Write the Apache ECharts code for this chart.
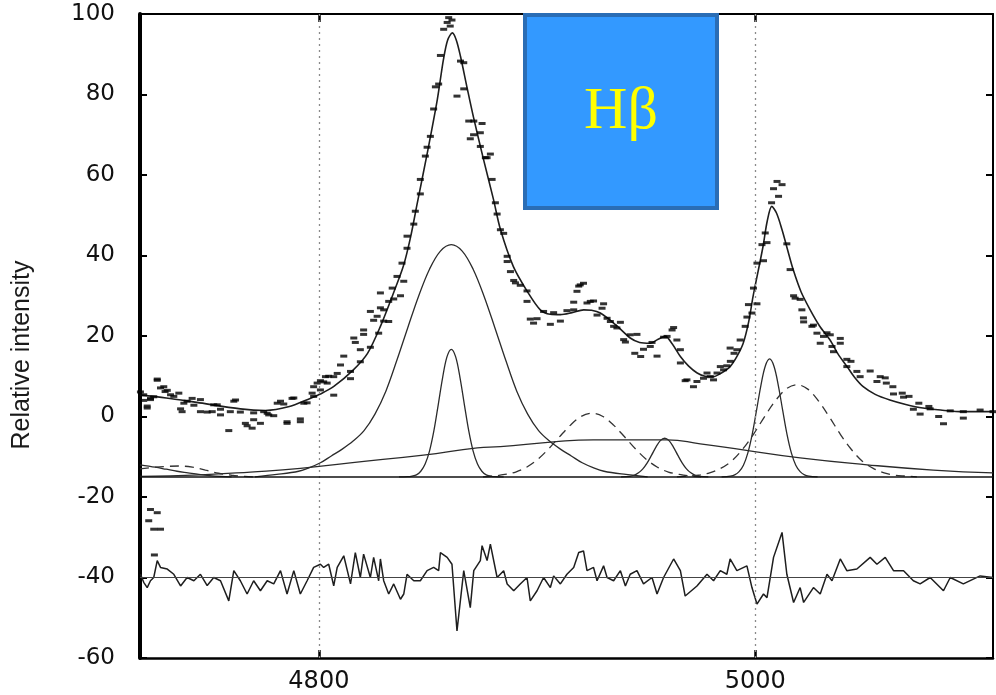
<!DOCTYPE html>
<html><head><meta charset="utf-8">
<script src="https://cdn.jsdelivr.net/npm/echarts@6/dist/echarts.min.js"></script>
<style>html,body{margin:0;padding:0;background:#fff}#c{width:996px;height:695px}</style>
</head><body><div id="c"></div>
<script>
// ---- observed spectrum and residuals (wavelength in Angstrom) ----
const wave = [4718.2,4719.7,4721.3,4722.8,4724.3,4725.9,4727.4,4730.5,4733.5,4736.6,4739.6,4742.7,4745.7,4748.8,4751.8,4754.9,4758.7,4761.0,4764.0,4767.1,4770.1,4773.2,4776.3,4779.3,4782.4,4785.4,4788.5,4791.5,4794.6,4797.6,4800.7,4802.2,4804.5,4806.8,4808.4,4811.4,4814.5,4816.7,4819.0,4820.5,4823.6,4825.1,4827.4,4828.2,4829.7,4832.0,4834.3,4837.4,4838.9,4840.4,4843.5,4846.5,4849.6,4852.6,4854.9,4855.7,4858.8,4861.0,4863.3,4866.4,4869.4,4871.0,4874.0,4874.8,4877.1,4878.6,4881.7,4884.7,4886.3,4889.3,4892.3,4895.4,4896.9,4900.0,4903.0,4906.1,4907.6,4910.7,4913.7,4916.8,4919.1,4921.3,4922.9,4925.9,4927.5,4930.5,4932.1,4935.1,4938.2,4940.5,4942.7,4945.8,4948.8,4952.7,4955.0,4958.0,4962.6,4965.7,4967.9,4973.3,4977.9,4980.9,4984.0,4987.0,4988.5,4991.6,4996.2,4998.5,5000.8,5003.8,5005.4,5008.4,5012.3,5014.5,5017.6,5020.6,5022.2,5026.7,5029.8,5032.9,5035.2,5039.0,5042.0,5046.6,5052.7,5055.8,5059.6,5063.4,5068.0,5072.5,5075.6,5080.2,5086.3,5089.4,5095.4,5103.1,5109.0];
const observed = [6.1,4.0,2.6,4.2,4.9,9.0,7.1,6.5,5.0,1.9,3.8,2.8,4.2,1.1,2.9,1.8,-3.5,3.8,1.1,-2.3,0.9,-1.7,0.8,0.2,3.8,-1.7,4.6,-0.6,3.4,7.4,8.9,8.6,10.0,5.3,10.7,15.0,9.4,18.4,13.6,20.4,17.2,23.9,20.7,27.0,23.7,23.6,29.2,30.0,33.6,41.8,47.8,55.3,66.9,76.4,82.6,89.7,97.9,98.5,79.6,87.9,69.0,73.4,70.5,72.8,64.3,65.2,50.3,45.5,39.8,33.8,32.6,31.2,24.2,24.3,26.1,22.9,25.8,23.7,26.3,28.4,32.4,33.1,28.2,28.7,25.2,28.0,24.4,22.4,23.4,18.5,20.3,20.4,16.7,18.4,15.0,19.7,22.1,16.6,8.9,8.7,10.8,9.1,12.4,12.6,17.0,16.6,24.7,25.7,28.0,38.7,43.2,56.6,57.6,42.9,30.0,29.1,23.5,22.7,18.2,20.8,17.4,19.4,14.2,11.2,11.3,8.7,9.6,5.6,4.8,1.8,0.6,1.9,-1.8,1.4,-0.4,1.6,1.2];
const residual = [-39.2,-41.2,-42.5,-40.8,-40.0,-35.8,-37.5,-37.9,-39.2,-42.1,-40.0,-40.8,-39.2,-42.0,-40.0,-40.8,-45.8,-38.3,-40.8,-44.1,-40.8,-43.3,-40.8,-41.6,-38.3,-44.1,-38.3,-44.1,-40.8,-37.5,-36.7,-37.5,-36.7,-42.1,-37.5,-34.6,-41.6,-33.8,-40.0,-34.2,-40.0,-35.0,-40.8,-35.4,-40.8,-44.1,-41.6,-45.4,-44.1,-39.2,-40.8,-40.8,-38.3,-37.5,-38.3,-33.8,-35.0,-36.7,-53.3,-38.3,-47.5,-38.3,-35.8,-32.1,-35.8,-31.7,-40.0,-38.3,-41.6,-43.3,-41.6,-40.0,-45.8,-43.3,-40.0,-42.5,-39.6,-41.6,-39.2,-37.5,-33.8,-33.4,-38.3,-37.5,-40.8,-37.1,-40.0,-40.8,-38.3,-42.1,-39.2,-38.3,-41.6,-40.0,-44.1,-40.0,-35.4,-38.3,-44.6,-42.1,-39.2,-40.8,-38.3,-39.2,-35.4,-38.3,-37.1,-42.5,-46.6,-44.1,-45.0,-35.0,-28.8,-39.2,-46.2,-42.5,-46.2,-42.5,-44.1,-39.2,-40.8,-35.4,-38.3,-37.9,-35.0,-36.7,-35.0,-38.3,-38.3,-40.8,-41.6,-40.0,-43.3,-40.0,-41.6,-39.6,-40.0];
// further observed points
const extraWave = [4725.9,4728.9,4729.5,4719.7,4722.8,4721.3,4732.0,4735.8,4738.1,4737.3,4741.9,4745.7,4751.1,4754.9,4753.4,4761.8,4759.4,4766.3,4770.1,4769.4,4774.7,4777.0,4780.9,4785.4,4787.7,4783.9,4791.5,4793.1,4796.9,4799.2,4803.0,4803.8,4800.7,4797.6,4806.8,4809.9,4814.5,4816.0,4819.0,4820.5,4823.6,4826.7,4828.2,4829.7,4832.0,4833.6,4835.8,4838.1,4840.4,4844.2,4846.5,4848.8,4851.1,4853.4,4857.2,4859.5,4860.2,4864.9,4866.4,4868.7,4870.9,4874.0,4876.3,4879.4,4880.9,4883.2,4886.3,4887.8,4890.1,4895.4,4898.4,4916.8,4918.3,4919.8,4924.4,4929.8,4933.6,4936.6,4939.7,4944.8,4947.5,4951.9,4959.6,4961.9,4964.1,4965.7,4968.7,4971.7,4976.3,4979.4,4982.5,4985.5,4988.6,4990.3,4993.1,4995.4,4996.9,4999.2,5000.8,5003.1,5004.6,5007.5,5010.0,5010.7,5016.0,5018.3,5021.4,5022.1,5026.0,5028.3,5031.3,5034.4,5035.9,5039.0,5042.0,5043.9,5048.1,5057.3,5060.1,5063.1,5067.4,5070.5,5075.0,5079.6,5084.1,5095.4];
const extraFlux = [9.3,7.4,6.2,5.4,4.5,2.1,5.4,5.8,3.3,1.2,4.5,1.2,1.2,0.4,2.9,4.1,1.2,-1.7,-0.8,-2.9,1.2,0.4,3.3,-1.3,4.5,3.1,-1.3,3.3,5.8,8.3,9.9,8.3,6.6,5.0,9.9,12.8,11.2,19.5,16.6,21.5,26.1,24.9,30.7,26.5,28.6,31.9,34.8,38.1,44.8,51.0,58.9,64.7,69.6,81.9,96.2,99.1,97.0,88.3,81.4,73.4,70.0,67.1,64.3,58.9,53.1,46.4,38.5,36.0,33.2,28.6,23.2,26.5,31.1,32.7,28.6,26.9,23.6,22.0,19.1,15.7,14.9,17.4,19.9,21.5,19.0,13.3,9.1,7.4,9.5,9.9,10.8,11.6,13.7,15.7,19.0,22.4,27.8,31.9,38.1,42.7,45.6,53.1,58.4,54.7,36.5,29.4,26.5,24.5,22.4,20.7,19.9,20.3,16.1,18.2,12.4,13.7,9.9,9.9,8.3,7.4,5.8,5.0,3.3,2.5,0.0,1.2];
// stray points in the lower panel
const strayWave = [4722.0,4722.8,4724.3,4724.6,4725.9,4727.4];
const strayFlux = [-25.9,-23.1,-28.0,-34.4,-23.9,-28.0];

// ---- total fit ----
const fitWave = [4718,4730,4744,4764,4775.5,4786,4796,4800.7,4806.7,4815.8,4822.3,4828.2,4834.2,4838.8,4842,4845.1,4849.7,4854.3,4857.1,4859,4861.2,4863,4864.9,4868,4870.8,4875.4,4880,4883.2,4889.1,4895.5,4901.5,4906,4910.7,4916,4921.4,4925,4929,4936,4942.7,4947,4951.9,4955.5,4958.8,4962,4965.7,4969.5,4973.4,4977,4980.8,4984.5,4988.5,4991.5,4994.5,4997,4999,5001.3,5003.6,5005.5,5007.6,5009.8,5012.3,5014.8,5017.4,5021,5025.2,5029.5,5034.3,5038,5042.1,5045.7,5049.5,5055,5061.7,5069,5076.9,5085,5095.2,5109];
const fitFlux = [5.3,4.6,3.5,1.9,1.5,2.4,4.5,5.6,7.4,11.6,15.7,22.4,30.7,37.5,44.5,53,65.5,78.8,88.7,93.5,95.3,93.5,89.5,81.5,74.5,64,54,46.5,37.3,31.1,26.5,25.4,25.3,25.8,26.5,26.4,25.7,22.8,19.5,18.4,18.2,19.2,19.9,18,14.9,12.5,10.8,10.0,9.9,10.8,12.4,14.8,18.2,23.5,29.8,36,42.3,48.5,52.2,50.5,46.4,41.5,36.5,31,26.5,22.5,19.0,15.5,12.4,9.6,7.4,5.5,4.1,3.0,2.1,1.6,1.2,1.2];

// ---- fit components (drawn on the -15 baseline) ----
const broadWave = [4770.7,4780.7,4790.7,4795.7,4800.7,4805.7,4810.7,4815.7,4820.7,4825.7,4830.7,4835.7,4840.7,4845.7,4850.7,4855.7,4860.7,4865.7,4870.7,4875.7,4880.7,4885.7,4890.7,4895.7,4900.7,4905.7,4910.7,4915.7,4920.7,4925.7,4930.7,4940.7,4950.7];
const broadFlux = [-15,-14.4,-13.6,-12.7,-11.5,-9.8,-8.1,-6.1,-3.5,0.6,6.3,13.9,22.0,29.9,36.6,41.1,42.7,41.1,36.6,29.9,22.0,13.9,6.3,0.6,-3.5,-6.1,-8.1,-9.8,-11.5,-12.7,-13.6,-14.4,-15];
const narrowWave = [4836.7,4840.7,4842.7,4844.7,4846.7,4848.7,4850.7,4852.7,4854.7,4856.7,4858.7,4860.7,4862.7,4864.7,4866.7,4868.7,4870.7,4872.7,4874.7,4876.7,4878.7,4880.7,4884.7];
const narrowFlux = [-15,-14.95,-14.8,-14.5,-13.6,-11.8,-8.6,-3.6,2.9,9.6,14.8,16.7,14.8,9.6,2.9,-3.6,-8.6,-11.8,-13.6,-14.5,-14.8,-14.95,-15];
const o4959Wave = [4938.5,4942.5,4944.5,4946.5,4948.5,4950.5,4952.5,4954.5,4956.5,4958.5,4960.5,4962.5,4964.5,4966.5,4968.5,4970.5,4972.5,4974.5,4978.5];
const o4959Flux = [-15,-14.85,-14.6,-14.0,-13.0,-11.5,-9.6,-7.6,-6.0,-5.4,-6.0,-7.6,-9.6,-11.5,-13.0,-14.0,-14.6,-14.85,-15];
const o5007Wave = [4984.6,4988.6,4990.6,4992.6,4994.6,4996.6,4998.6,5000.6,5002.6,5004.6,5006.6,5008.6,5010.6,5012.6,5014.6,5016.6,5018.6,5020.6,5022.6,5024.6,5028.6];
const o5007Flux = [-15,-14.8,-14.5,-13.7,-12.1,-9.1,-4.5,1.5,7.7,12.5,14.3,12.5,7.7,1.5,-4.5,-9.1,-12.1,-13.7,-14.5,-14.8,-15];
const fe4924Wave = [4875.2,4880.2,4885.2,4890.2,4895.2,4900.2,4905.2,4910.2,4915.2,4920.2,4925.2,4930.2,4935.2,4940.2,4945.2,4950.2,4955.2,4960.2,4965.2,4970.2,4975.2];
const fe4924Flux = [-15,-14.8,-14.4,-13.8,-12.6,-10.7,-8.1,-5.1,-2.2,0.0,0.8,0.0,-2.2,-5.1,-8.1,-10.7,-12.6,-13.8,-14.4,-14.8,-15];
const fe5018Wave = [4964.1,4969.1,4974.1,4979.1,4984.1,4989.1,4994.1,4999.1,5004.1,5009.1,5014.1,5019.1,5024.1,5029.1,5034.1,5039.1,5044.1,5049.1,5054.1,5059.1,5064.1,5069.1,5074.1];
const fe5018Flux = [-15,-14.8,-14.6,-14.0,-12.9,-11.1,-8.2,-4.5,-0.2,3.8,6.8,7.9,6.8,3.8,-0.2,-4.5,-8.2,-11.1,-12.9,-14.0,-14.6,-14.8,-15];
const vbWave = [4718,4745.7,4768.6,4791.5,4814.4,4847.9,4872.6,4883.2,4907.5,4925.8,4942.7,4959.7,4974.8,4994.5,5020.6,5051.3,5081.6,5109];
const vbFlux = [-14.9,-14.5,-13.8,-12.9,-11.5,-9.6,-7.8,-7.5,-6.3,-5.8,-5.8,-5.8,-6.8,-8.3,-10.3,-12.0,-13.3,-14.0];
const leftSolidWave = [4718,4725,4730,4735,4740,4745,4750,4755,4760];
const leftSolidFlux = [-12.0,-12.6,-13.1,-13.6,-14.0,-14.4,-14.7,-14.9,-15];
const leftDashWave = [4718,4725,4730,4736,4742,4748,4754,4760,4766,4772];
const leftDashFlux = [-13.0,-12.6,-12.4,-12.3,-12.6,-13.3,-14.1,-14.6,-14.9,-15];

// ---- axes ----
const xTicks = [4800, 5000];
const componentBaseline = -15;
const residualZero = -40;
const yAxisTitle = 'Relative intensity';
const boxLabel = 'Hβ';

const pairs = (xs, ys) => xs.map((x, i) => [x, ys[i]]);
const solid = {color: '#2b2b2b', width: 1.3};
const dashed = {color: '#333', width: 1.3, type: [9, 6]};
function comp(name, xs, ys, style, sm) {
  return {name, type: 'line', data: pairs(xs, ys), showSymbol: false, smooth: sm === undefined ? 0.35 : sm,
    lineStyle: style, silent: true, z: 3};
}

const chart = echarts.init(document.getElementById('c'), null, {renderer: 'canvas'});
const option = {
  animation: false,
  backgroundColor: '#fff',
  grid: {left: 140, right: 3, top: 14, bottom: 37},
  xAxis: [
    {type: 'value', min: 4718, max: 5109, position: 'bottom',
      axisLine: {show: true, onZero: false, lineStyle: {color: '#000', width: 2.5}},
      axisTick: {show: true, inside: true, length: 8, customValues: xTicks, lineStyle: {color: '#000', width: 2.5}},
      axisLabel: {show: true, customValues: xTicks, formatter: v => String(v), margin: 12,
        fontFamily: 'DejaVu Sans', fontSize: 24, color: '#111'},
      splitLine: {show: false}},
    {type: 'value', min: 4718, max: 5109, position: 'top',
      axisLine: {show: true, onZero: false, lineStyle: {color: '#000', width: 2}},
      axisTick: {show: true, inside: true, length: 8, customValues: xTicks, lineStyle: {color: '#000', width: 2.5}},
      axisLabel: {show: false}, splitLine: {show: false}}
  ],
  yAxis: [
    {type: 'value', min: -60, max: 100, interval: 20, position: 'left',
      axisLine: {show: true, onZero: false, lineStyle: {color: '#000', width: 4}},
      axisTick: {show: true, inside: true, length: 7, lineStyle: {color: '#000', width: 2}},
      axisLabel: {margin: 25, fontFamily: 'DejaVu Sans', fontSize: 23, color: '#111'},
      splitLine: {show: false}},
    {type: 'value', min: -60, max: 100, interval: 20, position: 'right',
      axisLine: {show: true, onZero: false, lineStyle: {color: '#000', width: 2}},
      axisTick: {show: true, inside: true, length: 7, lineStyle: {color: '#000', width: 2}},
      axisLabel: {show: false}, splitLine: {show: false}}
  ],
  series: [
    {name: 'guides', type: 'line', data: [], silent: true,
      markLine: {silent: true, symbol: ['none', 'none'], label: {show: false},
        data: [
          {xAxis: xTicks[0], lineStyle: {color: '#8a8a8a', width: 1.3, type: [2, 4]}},
          {xAxis: xTicks[1], lineStyle: {color: '#8a8a8a', width: 1.3, type: [2, 4]}},
          {yAxis: componentBaseline, lineStyle: {color: '#111', width: 1.6, type: 'solid'}},
          {yAxis: residualZero, lineStyle: {color: '#444', width: 1, type: 'solid'}}
        ]}},
    comp('Broad Hβ', broadWave, broadFlux, solid),
    comp('Narrow Hβ', narrowWave, narrowFlux, solid),
    comp('[O III] 4959', o4959Wave, o4959Flux, solid),
    comp('[O III] 5007', o5007Wave, o5007Flux, solid),
    comp('Fe II 4924', fe4924Wave, fe4924Flux, dashed),
    comp('Fe II 5018', fe5018Wave, fe5018Flux, dashed),
    comp('Very broad', vbWave, vbFlux, solid, 0.5),
    comp('Left solid', leftSolidWave, leftSolidFlux, solid),
    comp('Left dashed', leftDashWave, leftDashFlux, dashed),
    {name: 'Fit', type: 'line', data: pairs(fitWave, fitFlux), showSymbol: false, smooth: 0.3,
      lineStyle: {color: '#1e1e1e', width: 1.6}, z: 4},
    {name: 'Residual', type: 'line', data: pairs(wave, residual), showSymbol: false,
      lineStyle: {color: '#1e1e1e', width: 1.5}, z: 4},
    {name: 'Observed', type: 'scatter', data: pairs(wave, observed).concat(pairs(extraWave, extraFlux)),
      symbol: 'rect', symbolSize: [7, 3], itemStyle: {color: '#000'}, z: 5},
    {name: 'Stray', type: 'scatter', data: pairs(strayWave, strayFlux), symbol: 'rect', symbolSize: [7, 3],
      itemStyle: {color: '#000'}, z: 5}
  ],
  graphic: [
    {type: 'text', x: 22, y: 355, rotation: Math.PI / 2,
      style: {text: yAxisTitle, fontFamily: 'Liberation Sans', fontSize: 25, fill: '#1a1a1a', align: 'center', verticalAlign: 'middle'}},
    {type: 'rect', z: 100, shape: {x: 525, y: 15, width: 192, height: 193},
      style: {fill: '#3399ff', stroke: '#2a6db5', lineWidth: 4}},
    {type: 'text', z: 101, x: 621, y: 112,
      style: {text: boxLabel, fontFamily: 'Liberation Serif', fontSize: 60, fill: '#ffff00', align: 'center', verticalAlign: 'middle'}}
  ]
};
chart.setOption(option);
</script>
</body></html>
